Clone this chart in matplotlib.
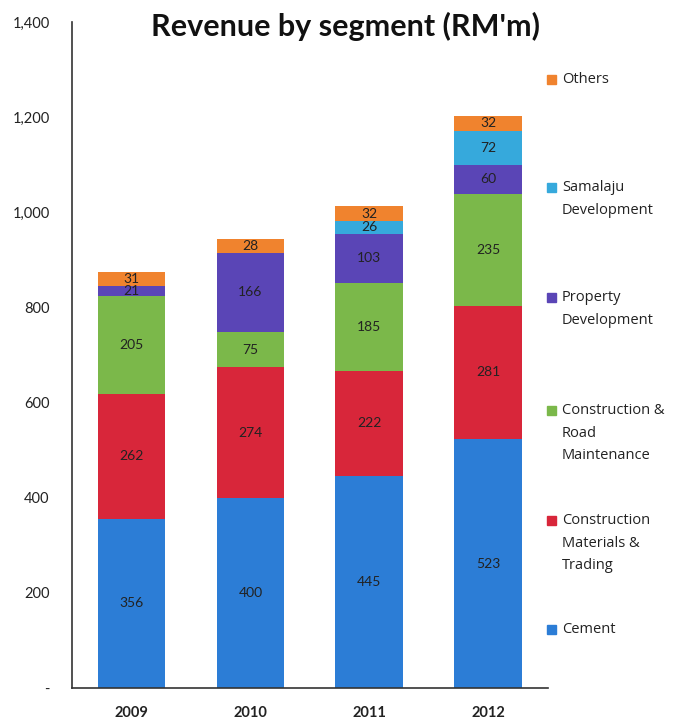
import matplotlib
matplotlib.use("Agg")
import matplotlib.pyplot as plt
import numpy as np

# data
years = ["2009", "2010", "2011", "2012"]
segments = ["Cement", "Construction\nMaterials &\nTrading", "Construction &\nRoad\nMaintenance",
            "Property\nDevelopment", "Samalaju\nDevelopment", "Others"]
cement = [356, 400, 445, 523]
cmt = [262, 274, 222, 281]
road = [205, 75, 185, 235]
prop = [21, 166, 103, 60]
samalaju = [0, 0, 26, 72]
others = [31, 28, 32, 32]
series = [cement, cmt, road, prop, samalaju, others]
colors = ["#2c7dd6", "#d8263a", "#7bb84a", "#5a45b6", "#36a9dc", "#f0832e"]

yticks = [0, 200, 400, 600, 800, 1000, 1200, 1400]
ytick_labels = ["-", "200", "400", "600", "800", "1,000", "1,200", "1,400"]

plt.rcParams['font.family'] = ['Lato', 'DejaVu Sans']

fig = plt.figure(figsize=(6.73, 7.21), dpi=100)
ax = fig.add_axes([0.107, 0.0458, 0.707, 0.9237])

x = np.arange(len(years))
bottom = np.zeros(len(years))
for vals, col in zip(series, colors):
    vals = np.array(vals, dtype=float)
    ax.bar(x, vals, 0.57, bottom=bottom, color=col, edgecolor='none')
    for xi, b, v in zip(x, bottom, vals):
        if v > 0:
            ax.text(xi, b + v / 2, str(int(v)), ha='center', va='center',
                    fontsize=10, color='#222222')
    bottom += vals

ax.set_xlim(-0.5, 3.5)
ax.set_ylim(0, 1400)
ax.set_yticks(yticks)
ax.set_yticklabels(ytick_labels, fontsize=10.5, color='#222222')
ax.set_xticks(x)
ax.set_xticklabels(years, fontsize=10.5, fontweight='bold', color='#222222')
ax.tick_params(axis='both', length=0)
ax.tick_params(axis='y', pad=16)
ax.tick_params(axis='x', pad=13)
for s in ['top', 'right']:
    ax.spines[s].set_visible(False)
ax.spines['left'].set_color('#333333')
ax.spines['bottom'].set_color('#333333')
ax.spines['left'].set_linewidth(1.2)
ax.spines['bottom'].set_linewidth(1.2)

fig.text(0.514, 0.963, "Revenue by segment (RM'm)", ha='center', va='center',
         fontsize=22, fontweight='bold', color='#111111')

# legend, placed by hand to follow the spacing of the original
leg_y = [629, 520, 410, 297, 187, 79]  # pixel row of first line of each entry
H = 721.0
for lab, col, yp in zip(segments, colors, leg_y):
    fig.patches.append(plt.Rectangle((547 / 673, 1 - (yp + 4.5) / H), 9 / 673, 9 / H,
                                     color=col, transform=fig.transFigure, figure=fig))
    fig.text(562 / 673, 1 - (yp - 7) / H, lab, ha='left', va='top', fontsize=10.5,
             color='#222222', linespacing=1.7, family=['Open Sans', 'DejaVu Sans'])

fig.savefig("out.png", dpi=100)
